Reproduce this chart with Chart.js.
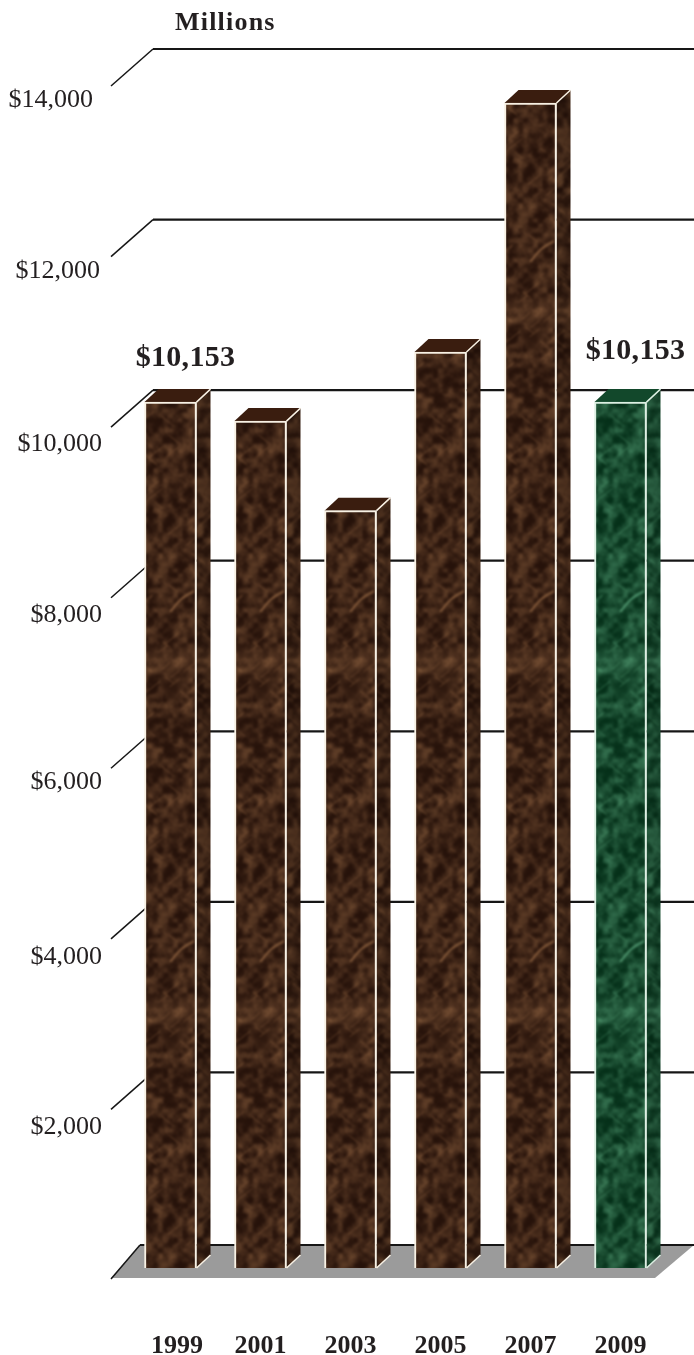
<!DOCTYPE html>
<html>
<head>
<meta charset="utf-8">
<title>Millions</title>
<script src="https://cdn.jsdelivr.net/npm/chart.js@4/dist/chart.umd.min.js"></script>
<style>
  html, body { margin: 0; padding: 0; background: #fff; }
  canvas { display: block; }
</style>
</head>
<body>
<canvas id="chart" width="694" height="1355"></canvas>
<script>
// --- Data ---
const years = ['1999', '2001', '2003', '2005', '2007', '2009'];
const revenue = [10153, 9930, 8880, 10740, 13660, 10153];
const yTicks = [2000, 4000, 6000, 8000, 10000, 12000, 14000];
const calloutYears = ['1999', '2009'];

// --- Look ---
const SERIF = '"Liberation Serif", serif';
const INK = '#231f20';
const DEPTH_X = 14, DEPTH_Y = 13;     // how far a bar goes back
const WALL_X = 42, WALL_Y = 25;       // back wall relative to the front of the scale

// marble tile, same for every bar; 90 wide = one category so each bar gets the same bit
function noise(x, y, seed) {
  const s = Math.sin(x * 127.1 + y * 311.7 + seed) * 43758.5453;
  return s - Math.floor(s);
}
function smooth(x, y, cell, seed, w, h) {
  const cols = Math.round(w / cell), rows = Math.round(h / cell);
  const gx = x / cell, gy = y / cell;
  const x0 = Math.floor(gx), y0 = Math.floor(gy);
  const fx = gx - x0, fy = gy - y0;
  const a = noise(x0 % cols, y0 % rows, seed), b = noise((x0 + 1) % cols, y0 % rows, seed);
  const c = noise(x0 % cols, (y0 + 1) % rows, seed), d = noise((x0 + 1) % cols, (y0 + 1) % rows, seed);
  const sx = fx * fx * (3 - 2 * fx), sy = fy * fy * (3 - 2 * fy);
  return (a * (1 - sx) + b * sx) * (1 - sy) + (c * (1 - sx) + d * sx) * sy;
}
function marble(dark, light, shade) {
  const w = 90, h = 350;
  const raw = document.createElement('canvas');
  raw.width = w; raw.height = h;
  const g = raw.getContext('2d');
  const img = g.createImageData(w, h);
  for (let y = 0; y < h; y++) {
    for (let x = 0; x < w; x++) {
      let t = 0.35 * smooth(x, y, 10, 1, w, h) + 0.45 * smooth(x, y, 5, 2, w, h) + 0.2 * noise(x, y, 4);
      t = Math.max(0, (t - 0.3) * 1.0);
      // the paler band and dark knot that repeat down the bars
      const band = Math.exp(-Math.pow((y - 310) / 13, 2));
      const dx = Math.min(Math.abs(x - 83), 90 - Math.abs(x - 83));
      const knot = Math.exp(-(Math.pow((y - 335) / 12, 2) + Math.pow(dx / 14, 2)));
      t = t * (1 - 0.8 * knot) + 0.2 * band;
      t = Math.min(1, t);
      const i = (y * w + x) * 4;
      for (let k = 0; k < 3; k++) img.data[i + k] = dark[k] + (light[k] - dark[k]) * t;
      img.data[i + 3] = 255;
    }
  }
  g.putImageData(img, 0, 0);

  // thin pale veins
  g.strokeStyle = 'rgba(' + light.join(',') + ',0.3)';
  g.lineWidth = 1.2;
  for (let n = 0; n < 60; n++) {
    const vx = noise(n, 1, 7) * w, vy = noise(n, 2, 7) * h;
    const dir = noise(n, 3, 7) < 0.5 ? 1 : -1;
    const len = 7 + noise(n, 4, 7) * 12;
    g.beginPath();
    g.moveTo(vx, vy);
    g.lineTo(vx + dir * len, vy - len * 0.8);
    g.stroke();
  }
  // the brighter swirl
  g.strokeStyle = 'rgba(' + light.join(',') + ',0.6)';
  g.lineWidth = 2.4;
  g.beginPath();
  g.moveTo(80, 262);
  g.lineTo(90, 250);
  g.moveTo(-10, 262);
  g.lineTo(0, 250);
  g.quadraticCurveTo(8, 244, 14, 241);
  g.stroke();

  // soften it, the original is a blurry scan. three copies so the blur wraps cleanly
  const big = document.createElement('canvas');
  big.width = w * 3; big.height = h * 3;
  const bg = big.getContext('2d');
  for (let ox = 0; ox < 3; ox++) {
    for (let oy = 0; oy < 3; oy++) bg.drawImage(raw, ox * w, oy * h);
  }
  const tile = document.createElement('canvas');
  tile.width = w; tile.height = h;
  const out = tile.getContext('2d');
  out.filter = 'blur(0.8px)';
  out.drawImage(big, -w, -h);
  out.filter = 'none';

  // side faces get a dark wash
  if (shade < 1) {
    out.fillStyle = 'rgba(0,0,0,' + (1 - shade) + ')';
    out.fillRect(0, 0, w, h);
  }
  return out.createPattern(tile, 'repeat');
}
const ctx = document.getElementById('chart').getContext('2d');
const brown = marble([38, 18, 10], [165, 115, 75], 1);
const brownSide = marble([38, 18, 10], [165, 115, 75], 0.85);
const green = marble([5, 48, 25], [105, 185, 140], 1);
const greenSide = marble([5, 48, 25], [105, 185, 140], 0.88);

function isLast(i) { return i === years.length - 1; }

// wall lines, floor and the 3d sides, all behind the front faces
const stage = {
  id: 'stage',
  beforeDatasetsDraw(chart) {
    const c = chart.ctx, y = chart.scales.y;
    const right = chart.width;
    const frontX = 111, backX = frontX + WALL_X;
    const zero = y.getPixelForValue(0);

    // floor
    c.fillStyle = '#9b9b9b';
    c.beginPath();
    c.moveTo(backX - 13, zero - WALL_Y + 2);
    c.lineTo(right, zero - WALL_Y + 2);
    c.lineTo(655, zero + 10);
    c.lineTo(frontX, zero + 10);
    c.closePath();
    c.fill();

    c.strokeStyle = '#161616';
    [0].concat(yTicks).forEach(v => {
      const p = y.getPixelForValue(v);
      const by = v === 0 ? p - WALL_Y + 2 : p - WALL_Y;
      c.lineWidth = 2.2;
      c.beginPath();
      c.moveTo(right, by);
      c.lineTo(v === 0 ? backX - 13 : backX, by);
      c.stroke();
      c.lineWidth = 1.5;
      c.beginPath();
      if (v === 0) { c.moveTo(backX - 13, by); c.lineTo(frontX, p + 11); }
      else { c.moveTo(backX, by); c.lineTo(frontX, by + 37); }
      c.stroke();
    });

    // side and top of each bar
    chart.getDatasetMeta(0).data.forEach((bar, i) => {
      const l = bar.x - bar.width / 2, r = bar.x + bar.width / 2;
      const top = bar.y, base = bar.base;
      const edge = isLast(i) ? '#dcefe2' : '#f8f1e4';
      c.fillStyle = isLast(i) ? greenSide : brownSide;
      c.beginPath();
      c.moveTo(r, top);
      c.lineTo(r + DEPTH_X, top - DEPTH_Y);
      c.lineTo(r + DEPTH_X, base - DEPTH_Y);
      c.lineTo(r, base);
      c.closePath();
      c.fill();
      c.fillStyle = isLast(i) ? '#12482b' : '#3a1d0f';
      c.beginPath();
      c.moveTo(l, top);
      c.lineTo(l + DEPTH_X, top - DEPTH_Y);
      c.lineTo(r + DEPTH_X, top - DEPTH_Y);
      c.lineTo(r, top);
      c.closePath();
      c.fill();
      c.strokeStyle = edge;
      c.lineWidth = 1.5;
      c.beginPath();
      c.moveTo(r, top);
      c.lineTo(r + DEPTH_X, top - DEPTH_Y);
      c.moveTo(r, base);
      c.lineTo(r + DEPTH_X, base - DEPTH_Y);
      c.stroke();
    });
  },
  afterDatasetsDraw(chart) {
    const c = chart.ctx, xs = chart.scales.x, ys = chart.scales.y;
    c.save();
    c.fillStyle = INK;
    c.textBaseline = 'alphabetic';

    // axis title
    c.font = 'bold 26px ' + SERIF;
    c.letterSpacing = '1.2px';
    c.textAlign = 'left';
    c.fillText('Millions', 175, 30);
    c.letterSpacing = '0px';

    // y labels sit below and left of their lines
    c.font = '26px ' + SERIF;
    c.textAlign = 'right';
    yTicks.forEach(v => {
      const nudgeX = v === 14000 ? 93 : v === 12000 ? 100 : 102;
      const nudgeY = v >= 12000 ? 33 : v >= 8000 ? 36 : v === 6000 ? 33 : 37;
      c.fillText('$' + v.toLocaleString('en-US'), nudgeX, ys.getPixelForValue(v) + nudgeY);
    });

    // x labels
    c.font = 'bold 26px ' + SERIF;
    c.textAlign = 'center';
    years.forEach((label, i) => {
      const shift = i === 0 ? 6.5 : 0;
      c.fillText(label, xs.getPixelForValue(i) + shift, 1353);
    });

    // callouts over first and last bar
    c.font = 'bold 30px ' + SERIF;
    c.letterSpacing = '0.3px';
    calloutYears.forEach(label => {
      const i = years.indexOf(label);
      const text = '$' + revenue[i].toLocaleString('en-US');
      const bar = chart.getDatasetMeta(0).data[i];
      c.fillText(text, bar.x + 15, bar.y - (i === 0 ? 36 : 43));
    });
    c.restore();
  }
};

new Chart(ctx, {
  type: 'bar',
  data: {
    labels: years,
    datasets: [{
      data: revenue,
      backgroundColor: years.map((_, i) => isLast(i) ? green : brown),
      borderColor: years.map((_, i) => isLast(i) ? '#dcefe2' : '#f8f1e4'),
      borderWidth: 2,
      barThickness: 52
    }]
  },
  options: {
    responsive: false,
    animation: false,
    layout: { padding: { left: 125.5, right: 28.5, top: 74, bottom: 87 } },
    plugins: { legend: { display: false }, tooltip: { enabled: false } },
    scales: {
      x: { display: false },
      y: { display: false, min: 0, max: 14000 }
    }
  },
  plugins: [stage]
});
</script>
</body>
</html>
